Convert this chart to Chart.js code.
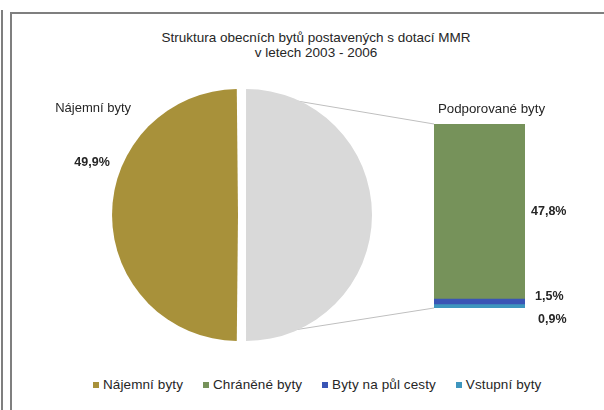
<!DOCTYPE html>
<html><head><meta charset="utf-8">
<script src="https://cdn.jsdelivr.net/npm/chart.js@4.4.1/dist/chart.umd.min.js"></script>
<style>
html,body{margin:0;padding:0;background:#fff;width:604px;height:410px;overflow:hidden;font-family:"Liberation Sans",Arial,sans-serif;}
#outerLine{position:absolute;left:1px;top:10px;width:2px;height:400px;background:#7f7f7f;}
#frame{position:absolute;left:10px;top:12px;width:594px;height:398px;border-left:2px solid #7f7f7f;border-top:2px solid #7f7f7f;box-sizing:border-box;}
#title{position:absolute;left:16px;width:600px;top:30px;text-align:center;font-size:13.5px;line-height:15px;color:#262626;}
#legend{position:absolute;left:93px;top:377px;white-space:nowrap;font-size:13.5px;letter-spacing:0.1px;color:#262626;display:flex;align-items:center;}
#legend .item{display:flex;align-items:center;margin-right:20px;}
#legend .sw{width:6px;height:6px;margin-right:4px;}
#pieCanvas{position:absolute;left:40px;top:85px;}
#barCanvas{position:absolute;left:400px;top:95px;}
</style>
</head><body>
<div id="outerLine"></div>
<div id="frame"></div>
<div id="title">Struktura obecních bytů postavených s dotací MMR<br>v letech 2003 - 2006</div>
<canvas id="barCanvas" width="200" height="240"></canvas>
<canvas id="pieCanvas" width="400" height="260"></canvas>
<div id="legend"></div>
<script>
// ---- data ----
const pieCategories = ['Nájemní byty', 'Podporované byty'];
const pieMainValue = 49.9;              // Nájemní byty
const barCategories = ['Chráněné byty', 'Byty na půl cesty', 'Vstupní byty'];
const barValues = [47.8, 1.5, 0.9];
const legendCategories = ['Nájemní byty', 'Chráněné byty', 'Byty na půl cesty', 'Vstupní byty'];

// ---- styles ----
const pieColors = ['#A8913A', '#D9D9D9'];
const barColors = ['#76925A', '#3A55B5', '#3E96BE'];
const legendColors = [pieColors[0], barColors[0], barColors[1], barColors[2]];
const textColor = '#262626';
const fontFamily = '"Liberation Sans", Arial, sans-serif';

const fmt = v => v.toFixed(1).replace('.', ',') + '%';

// legend (HTML text)
const legendEl = document.getElementById('legend');
legendCategories.forEach((c, i) => {
  const it = document.createElement('span'); it.className = 'item';
  const sw = document.createElement('span'); sw.className = 'sw'; sw.style.background = legendColors[i];
  const tx = document.createElement('span'); tx.textContent = c;
  it.appendChild(sw); it.appendChild(tx); legendEl.appendChild(it);
});

const otherTotal = barValues.reduce((a, b) => a + b, 0);
const pieValues = [pieMainValue, otherTotal];
const pieTotal = pieValues[0] + pieValues[1];

// ---- bar (stacked) ----
const stackOrder = [2, 1, 0]; // bottom to top
const barLabelNudge = [{dx: 6, dy: 0}, {dx: 10, dy: -5}, {dx: 13, dy: 13}];
const barLabelPlugin = {
  id: 'barLabels',
  afterDatasetsDraw(chart) {
    const ctx = chart.ctx;
    ctx.save();
    ctx.fillStyle = textColor;
    const topMeta = chart.getDatasetMeta(chart.data.datasets.length - 1).data[0];
    ctx.font = '13.3px ' + fontFamily;
    ctx.textAlign = 'center'; ctx.textBaseline = 'middle';
    ctx.fillText(pieCategories[1], topMeta.x + 12, topMeta.y - 15);
    ctx.font = 'bold 12.5px ' + fontFamily;
    ctx.textAlign = 'left';
    chart.data.datasets.forEach((ds, di) => {
      const el = chart.getDatasetMeta(di).data[0];
      const idx = stackOrder[di];
      const n = barLabelNudge[idx];
      ctx.fillText(fmt(barValues[idx]), el.x + el.width / 2 + n.dx, (el.y + el.base) / 2 + n.dy);
    });
    ctx.restore();
  }
};
const barChart = new Chart(document.getElementById('barCanvas'), {
  type: 'bar',
  data: {
    labels: [pieCategories[1]],
    datasets: stackOrder.map(i => ({
      label: barCategories[i], data: [barValues[i]], backgroundColor: barColors[i],
      borderWidth: 0, barPercentage: 1, categoryPercentage: 1
    }))
  },
  options: {
    responsive: false, animation: false,
    layout: {padding: {left: 34, right: 75, top: 29, bottom: 27}},
    plugins: {legend: {display: false}, tooltip: {enabled: false}},
    scales: {
      x: {display: false, stacked: true},
      y: {display: false, stacked: true, min: 0, max: otherTotal}
    }
  },
  plugins: [barLabelPlugin]
});

// ---- pie ----
function arcShift(arc) {
  const off = (arc.options.offset || 0) / 4;
  const circ = arc.endAngle - arc.startAngle;
  const fix = 1 - Math.sin(Math.min(Math.PI, circ || 0));
  const mid = (arc.startAngle + arc.endAngle) / 2;
  const t = off + off * fix;
  return {x: arc.x + Math.cos(mid) * t, y: arc.y + Math.sin(mid) * t};
}
const pieExtras = {
  id: 'pieExtras',
  beforeDatasetsDraw(chart) {
    const arc = chart.getDatasetMeta(0).data[1];
    const c = arcShift(arc);
    const r = arc.outerRadius;
    const pr = chart.canvas.getBoundingClientRect();
    const br = barChart.canvas.getBoundingClientRect();
    const dx = br.left - pr.left, dy = br.top - pr.top;
    const top = barChart.getDatasetMeta(barChart.data.datasets.length - 1).data[0];
    const bot = barChart.getDatasetMeta(0).data[0];
    const ctx = chart.ctx;
    ctx.save();
    ctx.strokeStyle = '#BFBFBF'; ctx.lineWidth = 1;
    ctx.beginPath();
    ctx.moveTo(c.x + r * Math.cos(arc.startAngle), c.y + r * Math.sin(arc.startAngle));
    ctx.lineTo(top.x - top.width / 2 + dx, top.y + dy);
    ctx.moveTo(c.x + r * Math.cos(arc.endAngle), c.y + r * Math.sin(arc.endAngle));
    ctx.lineTo(bot.x - bot.width / 2 + dx, bot.base + dy);
    ctx.stroke();
    ctx.restore();
  },
  afterDatasetsDraw(chart) {
    const arc = chart.getDatasetMeta(0).data[0];
    const c = arcShift(arc);
    const r = arc.outerRadius;
    const ctx = chart.ctx;
    ctx.save();
    ctx.fillStyle = textColor; ctx.textAlign = 'center'; ctx.textBaseline = 'middle';
    ctx.font = '13px ' + fontFamily;
    ctx.fillText(pieCategories[0], c.x - r * 1.155, c.y - r * 0.877);
    ctx.font = 'bold 12.5px ' + fontFamily;
    ctx.fillText(fmt(pieValues[0]), c.x - r * 1.164, c.y - r * 0.434);
    ctx.restore();
  }
};
const olivAngle = 360 * pieValues[0] / pieTotal;
new Chart(document.getElementById('pieCanvas'), {
  type: 'pie',
  data: {
    labels: pieCategories,
    datasets: [{data: pieValues, backgroundColor: pieColors, borderWidth: 0, offset: 16}]
  },
  options: {
    responsive: false, animation: false,
    rotation: 270 - olivAngle / 2,
    layout: {padding: {left: 72, right: 68, top: 0, bottom: 0}},
    plugins: {legend: {display: false}, tooltip: {enabled: false}}
  },
  plugins: [pieExtras]
});
</script>
</body></html>
